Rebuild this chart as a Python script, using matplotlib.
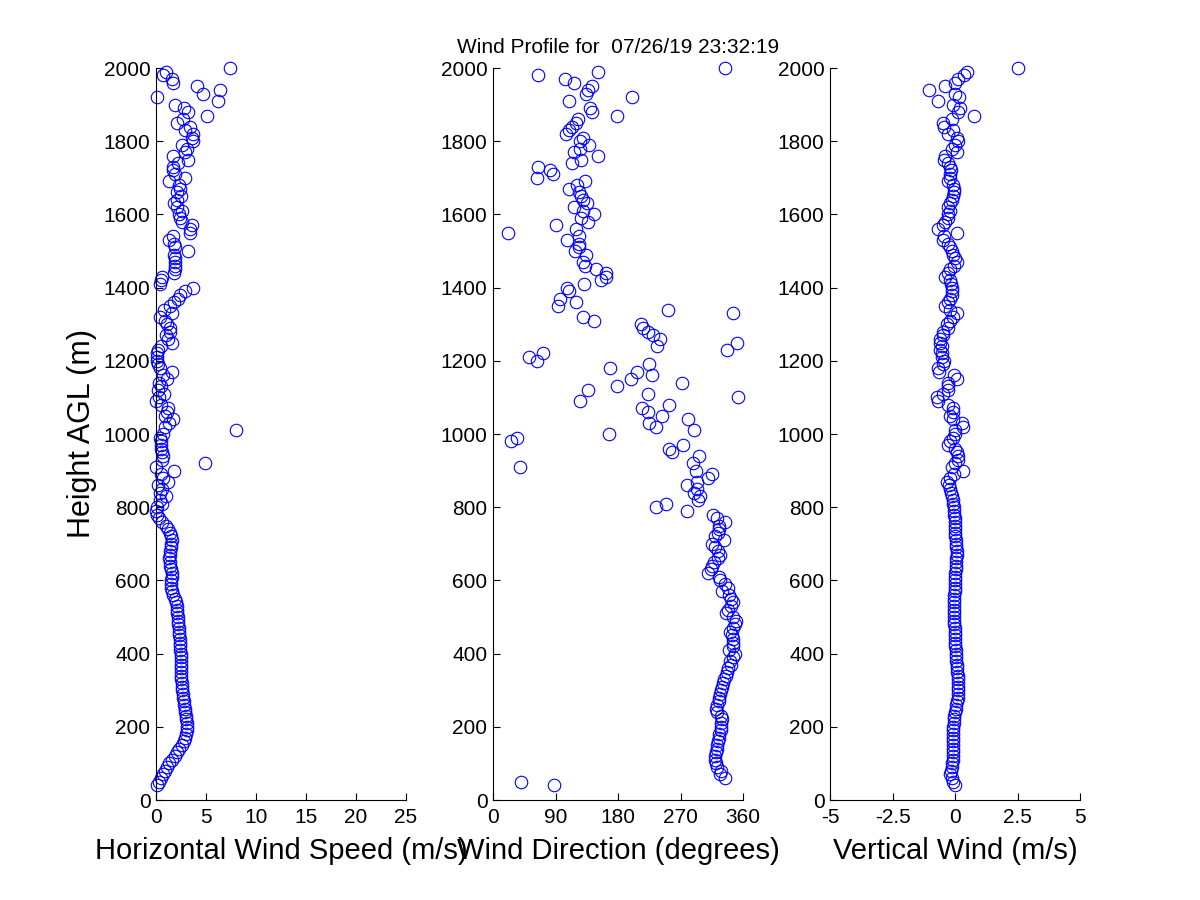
import numpy as np
import matplotlib
matplotlib.use("Agg")
import matplotlib.pyplot as plt

nan = np.nan

# Range gates (m AGL)
heights = list(range(40, 2001, 10))

# Horizontal wind speed (m/s), one value per gate
speed = [
    0.1, 0.3, 0.5, 0.7, 0.9, 1.1, 1.3, 1.6, 1.9, 2.1,            # 40-130
    2.3, 2.6, 2.75, 2.9, 3.0, 3.05, 3.1, 3.05, 3.0, 3.0,         # 140-230
    2.9, 2.85, 2.8, 2.75, 2.7, 2.65, 2.6, 2.57, 2.55, 2.5,       # 240-330
    2.47, 2.47, 2.47, 2.47, 2.45, 2.45, 2.45, 2.42, 2.4, 2.38,   # 340-430
    2.35, 2.33, 2.3, 2.25, 2.23, 2.2, 2.15, 2.1, 2.07, 2.05,     # 440-530
    2.0, 1.9, 1.7, 1.57, 1.5, 1.47, 1.5, 1.6, 1.57, 1.5,         # 540-630
    1.4, 1.35, 1.33, 1.35, 1.4, 1.45, 1.5, 1.57, 1.5, 1.35,      # 640-730
    1.15, 0.95, 0.6, 0.3, 0.1, 0.0, 0.07, 0.57, 0.4, 1.0,        # 740-830
    0.4, 0.6, 0.23, 1.23, 0.73, 0.5, 1.8, 0.0, 4.9, 0.6,         # 840-930
    0.67, 0.57, 0.5, 0.47, 0.45, 0.4, 0.67, 8.0, 0.9, 1.33,      # 940-1030
    1.73, 0.9, 1.07, 1.23, 0.5, 0.0, 0.3, 0.8, 0.23, 0.47,       # 1040-1130
    0.3, 1.07, 0.73, 1.57, 0.4, 0.23, 0.13, 0.1, 0.07, 0.23,     # 1140-1230
    0.5, 1.57, 1.2, 1.0, 1.4, 1.4, 1.1, 0.9, 0.4, 1.57,          # 1240-1330
    0.8, 1.4, 1.8, 2.23, 2.4, 2.9, 3.67, 0.4, 0.47, 0.57,        # 1340-1430
    1.83, 1.9, 1.9, 1.9, 1.9, 1.83, 3.23, 1.9, 1.8, 1.33,        # 1440-1530
    1.73, 3.4, 3.4, 3.57, 2.57, 2.4, 2.33, 2.57, 2.13, 1.8,      # 1540-1630
    2.07, 2.47, 2.13, 2.4, 2.33, 1.33, 2.9, 1.9, 1.67, 1.73,     # 1640-1730
    2.23, 3.23, 1.73, 2.9, 3.07, 2.57, 3.73, 3.57, 3.73, 2.9,    # 1740-1830
    3.4, 2.07, 2.73, 5.13, 3.23, 2.8, 1.9, 6.23, 0.13, 4.73,     # 1840-1930
    6.4, 4.13, 1.73, 1.57, 0.73, 1.0, 7.4,                       # 1940-2000
]

# Wind direction (degrees), one value per gate
direction = [
    88, 40, 334, 327, 328, 322, 321, 319, 320, 321,              # 40-130
    322, 323, 324, 325, 326, 328, 328, 329, 330, 328,            # 140-230
    322, 321, 323, 325, 326, 327, 328, 330, 331, 333,            # 240-330
    335, 337, 339, 342, 341, 345, 348, 340, 345, 346,            # 340-430
    345, 344, 341, 346, 348, 350, 346, 336, 338, 343,            # 440-530
    346, 342, 340, 330, 338, 334, 327, 326, 309, 314,            # 540-630
    316, 318, 324, 327, 324, 320, 316, 333, 319, 324,            # 640-730
    326, 325, 334, 322, 317, 280, 234, 249, 295, 298,            # 740-830
    289, 294, 279, 294, 310, 315, 292, 39, 288, nan,             # 840-930
    297, 258, 254, 274, 26, 35, 167, 289, 235, 225,              # 940-1030
    281, 243, 223, 215, 253, 125, 353, 223, 137, 178,            # 1040-1130
    272, 199, 229, 208, 168, 224, 64, 52, 72, 337,               # 1140-1230
    236, 352, 240, 230, 223, 216, 213, 146, 130, 346,            # 1240-1330
    252, 94, 120, 96, nan, 110, 107, 131, 156, 162,              # 1340-1430
    162, 149, 133, 130, nan, 134, 118, 124, 124, 107,            # 1440-1530
    124, 22, 119, 91, 137, 127, 145, 130, 117, 135,              # 1540-1630
    130, 127, 124, 110, 121, 133, 63, 86, 82, 65,                # 1640-1730
    114, 127, 151, 116, 125, 138, 125, 130, 105, 110,            # 1740-1830
    114, 119, 122, 178, 143, 139, nan, 110, 200, 134,            # 1840-1930
    137, 142, 117, 103, 65, 151, 334,                            # 1940-2000
]

# Vertical wind (m/s), one value per gate
vertical = [
    0.0, -0.1, -0.13, -0.2, -0.17, -0.13, -0.12, -0.1, -0.07, -0.07,        # 40-130
    -0.07, -0.07, -0.07, -0.07, -0.07, -0.07, -0.07, -0.05, -0.04, -0.03,   # 140-230
    0.0, 0.02, 0.03, 0.06, 0.1, 0.1, 0.12, 0.13, 0.12, 0.1,                 # 240-330
    0.1, 0.08, 0.07, 0.06, 0.05, 0.04, 0.03, 0.02, 0.0, 0.0,                # 340-430
    0.0, 0.0, 0.0, -0.02, -0.03, -0.03, -0.03, -0.03, -0.04, -0.03,         # 440-530
    -0.03, -0.03, -0.03, -0.02, 0.0, 0.0, 0.0, 0.0, 0.01, 0.02,             # 540-630
    0.03, 0.04, 0.05, 0.07, 0.06, 0.04, 0.03, 0.02, 0.0, 0.0,               # 640-730
    0.0, 0.0, -0.01, -0.02, -0.03, -0.04, -0.05, -0.07, -0.1, -0.13,        # 740-830
    -0.15, -0.2, -0.25, -0.33, -0.2, -0.05, 0.33, -0.13, 0.0, 0.1,          # 840-930
    0.13, 0.07, 0.0, -0.27, -0.2, -0.1, 0.0, 0.0, 0.33, 0.29,               # 940-1030
    -0.1, -0.2, -0.1, -0.07, -0.27, -0.67, -0.74, -0.5, -0.29, -0.27,       # 1040-1130
    -0.27, 0.07, -0.03, -0.64, -0.67, -0.5, -0.43, -0.54, -0.54, -0.6,      # 1140-1230
    -0.54, -0.6, -0.6, -0.5, -0.47, -0.27, -0.33, -0.2, -0.07, 0.07,        # 1240-1330
    -0.2, -0.4, -0.27, -0.2, -0.13, -0.11, -0.11, -0.15, -0.2, -0.4,        # 1340-1430
    -0.27, -0.2, -0.03, 0.07, 0.0, -0.07, -0.13, -0.2, -0.27, -0.47,        # 1440-1530
    -0.43, 0.07, -0.67, -0.47, -0.4, -0.3, -0.27, -0.2, -0.27, -0.2,        # 1540-1630
    -0.13, -0.07, -0.05, -0.03, -0.07, -0.27, -0.2, -0.2, -0.16, -0.2,      # 1640-1730
    -0.3, -0.43, -0.4, 0.07, -0.13, 0.0, 0.13, 0.07, -0.27, -0.07,          # 1740-1830
    -0.43, -0.47, -0.13, 0.74, 0.13, 0.2, -0.1, -0.67, 0.16, 0.0,           # 1840-1930
    -1.04, -0.4, 0.0, 0.1, 0.37, 0.47, 2.5,                                  # 1940-2000
]

title_text = "Wind Profile for  07/26/19 23:32:19"
ylabel_text = "Height AGL (m)"
xlabels = ["Horizontal Wind Speed (m/s)", "Wind Direction (degrees)", "Vertical Wind (m/s)"]
xlims = [(0, 25), (0, 360), (-5, 5)]
xticks = [[0, 5, 10, 15, 20, 25], [0, 90, 180, 270, 360], [-5, -2.5, 0, 2.5, 5]]
xticklabels = [["0", "5", "10", "15", "20", "25"],
               ["0", "90", "180", "270", "360"],
               ["-5", "-2.5", "0", "2.5", "5"]]
yticks = [0, 200, 400, 600, 800, 1000, 1200, 1400, 1600, 1800, 2000]

plt.rcParams['font.family'] = ['Liberation Sans', 'DejaVu Sans']

fig = plt.figure(figsize=(12, 9), dpi=100)
lefts = [156 / 1200, 493 / 1200, 830 / 1200]
bottom = 100 / 900
width = 250 / 1200
height = 732 / 900

series = [speed, direction, vertical]
axes = []
for i in range(3):
    ax = fig.add_axes([lefts[i], bottom, width, height])
    n = min(len(heights), len(series[i]))
    ax.plot(series[i][:n], heights[:n], linestyle='none', marker='o', markersize=9,
            markerfacecolor='none', markeredgecolor=(0, 0, 1), markeredgewidth=0.8,
            clip_on=False)
    ax.set_xlim(*xlims[i])
    ax.set_ylim(0, 2000)
    ax.set_xticks(xticks[i])
    ax.set_xticklabels(xticklabels[i])
    ax.set_yticks(yticks)
    ax.set_yticklabels([str(t) for t in yticks])
    for s in ['top', 'right']:
        ax.spines[s].set_visible(False)
    for s in ['left', 'bottom']:
        ax.spines[s].set_linewidth(0.8)
        ax.spines[s].set_color('black')
    ax.tick_params(direction='in', length=5, width=0.8, labelsize=15, colors='black')
    ax.tick_params(axis='x', pad=6)
    ax.tick_params(axis='y', pad=4)
    ax.set_xlabel(xlabels[i], fontsize=21, labelpad=7)
    axes.append(ax)

axes[0].set_ylabel(ylabel_text, fontsize=22, labelpad=5)
axes[1].set_title(title_text, fontsize=15, pad=11)

fig.savefig("out.png", dpi=100, facecolor='white')
